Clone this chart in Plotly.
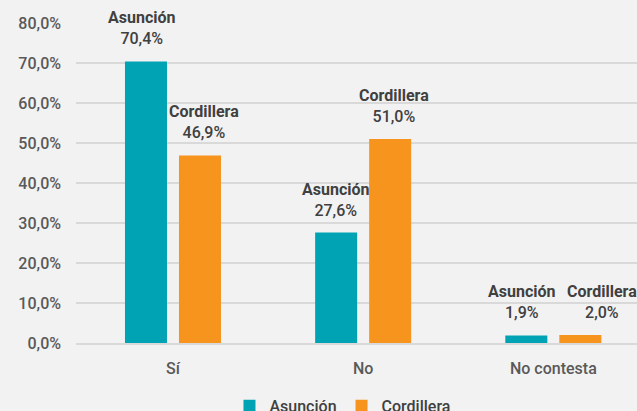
import plotly.graph_objects as go

categories = ["Sí", "No", "No contesta"]
asuncion = [70.4, 27.6, 1.9]
cordillera = [46.9, 51.0, 2.0]
series_names = ["Asunción", "Cordillera"]
y_ticks = [0, 10, 20, 30, 40, 50, 60, 70, 80]
label_xshift = [[-4, 0, -4], [4, 4, 22]]

colors = ["#00A3B4", "#F7941E"]
font_family = "Roboto, Liberation Sans, Arial, sans-serif"
bargap = 0.432
slot = (1 - bargap) / 2

fig = go.Figure()
annotations = []
for s, (name, vals, col) in enumerate(zip(series_names, [asuncion, cordillera], colors)):
    fig.add_trace(go.Bar(
        x=categories, y=vals, name=name,
        marker=dict(color=col, line=dict(width=0)),
        cliponaxis=False,
    ))
    off = (s - 0.5) * slot
    for i, v in enumerate(vals):
        annotations.append(dict(
            x=i + off, y=v, xref="x", yref="y",
            text="<b>" + name + "</b><br>" + f"{v:.1f}%".replace(".", ","),
            showarrow=False, yanchor="bottom", yshift=11,
            xshift=label_xshift[s][i],
            font=dict(size=16, color="#404040", family=font_family, weight=500),
            align="center",
        ))

fig.update_layout(
    width=637, height=411,
    paper_bgcolor="#F2F2F2", plot_bgcolor="#F2F2F2",
    margin=dict(l=76, r=0, t=23, b=68, autoexpand=False),
    barmode="group", bargap=bargap, bargroupgap=0.222,
    separators=",.",
    font=dict(family=font_family, size=16, color="#595959", weight=500),
    showlegend=True,
    legend=dict(orientation="h", x=0.475, xanchor="center", y=-0.143, yanchor="top",
                font=dict(size=16, color="#404040", weight=500),
                traceorder="normal", bgcolor="rgba(0,0,0,0)",
                itemwidth=30, tracegroupgap=0),
    annotations=annotations,
    xaxis=dict(range=[-0.51, 2.44], showgrid=False, showline=True,
               linecolor="#D9D9D9", linewidth=2, ticks="", automargin=False,
               ticklabelstandoff=10,
               tickfont=dict(size=16, color="#595959")),
    yaxis=dict(range=[0, 80], tickvals=y_ticks,
               ticktext=[f"{v:.1f}%".replace(".", ",") for v in y_ticks],
               showgrid=True, gridcolor="#D9D9D9", gridwidth=2,
               zeroline=False, showline=False, ticks="", automargin=False,
               ticklabelstandoff=14,
               tickfont=dict(size=16, color="#595959")),
)

fig.write_html(
    "out.html",
    config={"displayModeBar": False},
    post_script="document.body.style.margin='0';document.body.style.background='#F2F2F2';",
)
